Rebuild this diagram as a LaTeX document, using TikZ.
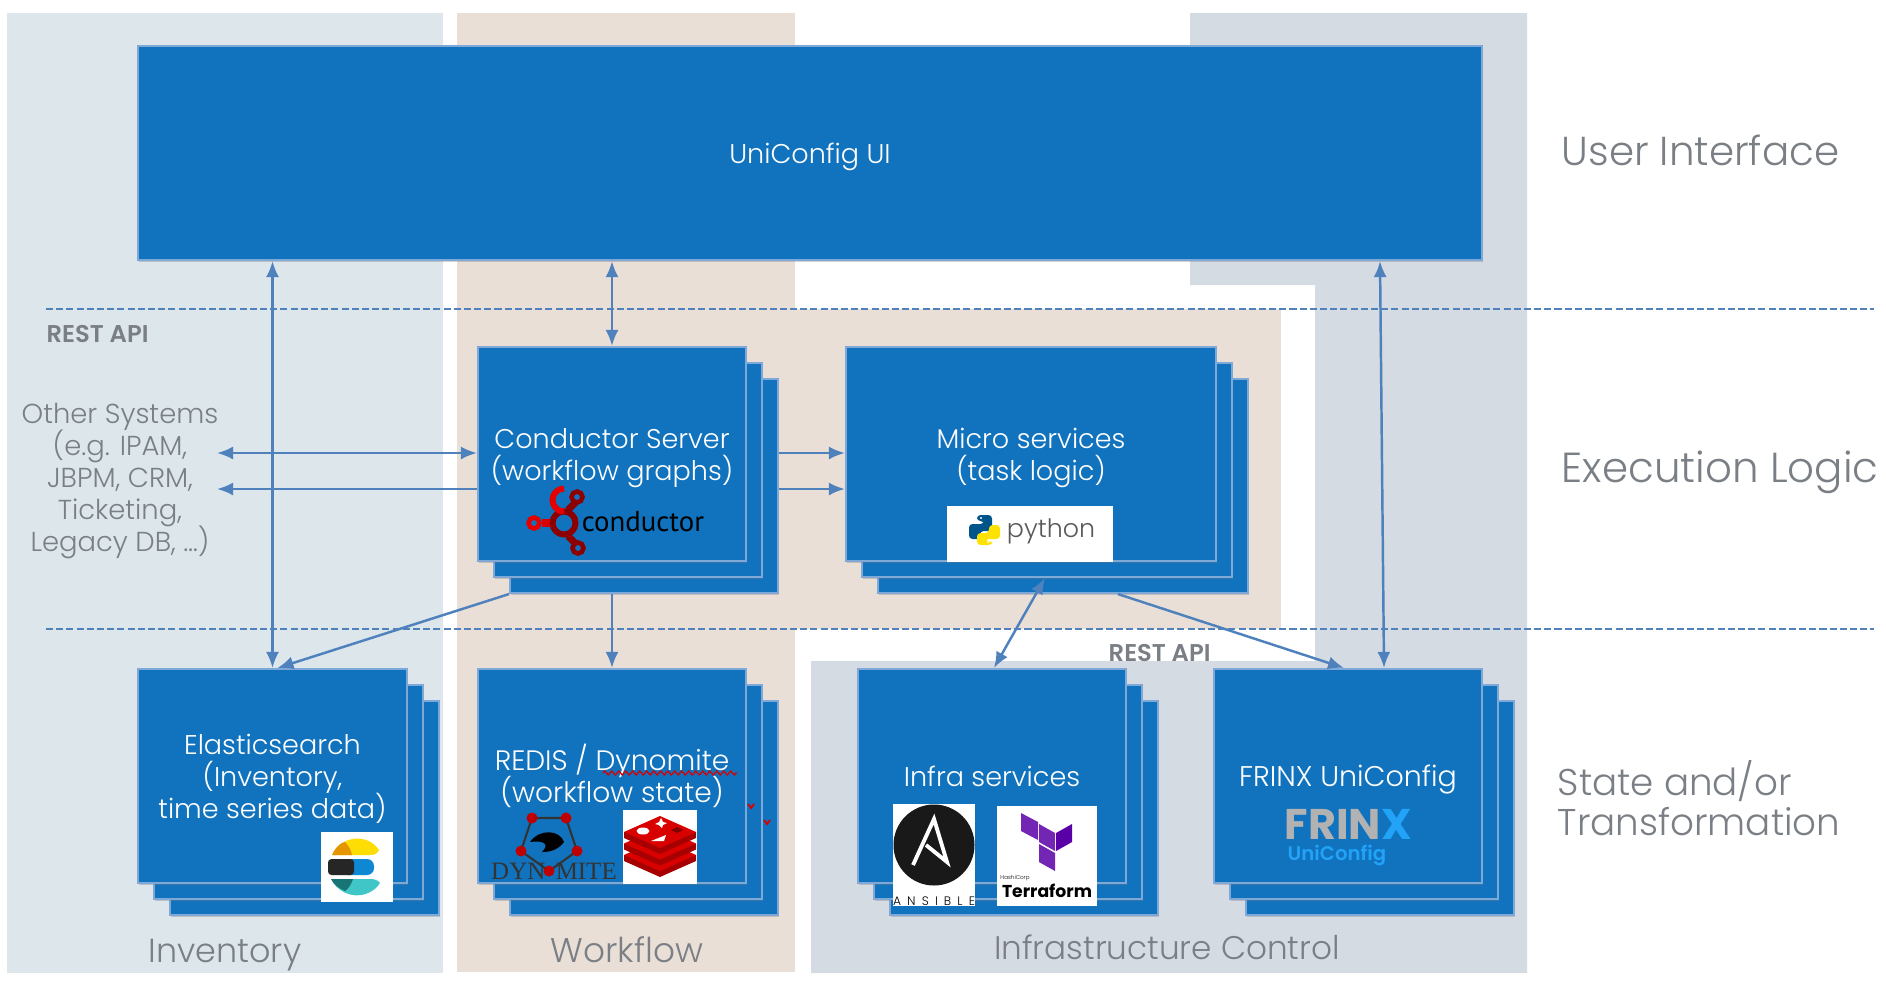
\documentclass[tikz,border=0pt]{standalone}
\usepackage{fontspec}
\setmainfont{Poppins}[UprightFont=* Light, BoldFont=* SemiBold]
\newfontfamily\logoserif{Liberation Serif}
\newfontfamily\logocond{PT Sans}
\newfontfamily\logobold{Poppins}[UprightFont=* Bold]
\usetikzlibrary{positioning, calc, arrows.meta, shadows, decorations.pathmorphing}
\definecolor{inventory color}{HTML}{DCE6EB}
\definecolor{workflow color}{HTML}{EADFD6}
\definecolor{infra color}{HTML}{D5DBE3}
\definecolor{block color}{HTML}{1172BE}
\definecolor{edge color}{HTML}{7EA8D8}
\definecolor{flow color}{HTML}{4F81BD}
\definecolor{label color}{HTML}{7A7F85}
\definecolor{frinx blue}{HTML}{22A3F7}
\newcommand{\sizedfont}[2]{\fontsize{#1}{#2}\selectfont\lineskiplimit=-20pt\relax}
\tikzset{block/.style={draw=edge color, fill=block color, line width=0.6pt, inner sep=0pt, text=white, align=center, text depth=0pt,
    font=\sizedfont{7.7}{9.1}, drop shadow={shadow xshift=0.3pt, shadow yshift=-0.5pt, opacity=0.35}}}
\tikzset{flow/.style={draw=flow color, line width=0.7pt, -{Latex[length=1.6mm, width=1.3mm]}}}
\tikzset{twoway/.style={flow, {Latex[length=1.6mm, width=1.3mm]}-{Latex[length=1.6mm, width=1.3mm]}}}
\tikzset{apiline/.style={draw=flow color, line width=0.65pt, dash pattern=on 2pt off 0.9pt}}
\tikzset{graylabel/.style={text=label color, font=\sizedfont{10.6}{11.3}, inner sep=0pt}}
\tikzset{panellabel/.style={text=label color, font=\sizedfont{9.5}{10}, inner sep=0pt}}
\tikzset{apilabel/.style={text=label color, font=\fontsize{6.9}{7}\bfseries\selectfont, inner sep=0pt}}
\tikzset{logopad/.style={fill=white, draw=none, inner sep=0pt}}
\begin{document}
\begin{tikzpicture}[y=-1cm]
    \useasboundingbox (0,0) rectangle (18.86,9.84);
    % panels
    \fill[inventory color] (0.07,0.13) rectangle (4.43,9.73);
    \fill[workflow color] (4.57,0.13) rectangle (7.95,9.72);
    \fill[workflow color] (4.57,3.09) rectangle (12.81,6.29);
    \fill[infra color] (11.90,0.13) -- (15.27,0.13) -- (15.27,9.73) -- (8.11,9.73) -- (8.11,6.61) -- (13.15,6.61) -- (13.15,2.85) -- (11.90,2.85) -- cycle;
    % api lines
    \coordinate (apiAleft) at (0.46,3.09);
    \coordinate (apiAright) at (18.74,3.09);
    \coordinate (apiBleft) at (0.46,6.29);
    \coordinate (apiBright) at (18.74,6.29);
    \draw[apiline] (apiAleft) -- (apiAright);
    \draw[apiline] (apiBleft) -- (apiBright);
    % stacks, back layers first
    \foreach \id/\cx/\cy/\boxw in {conductor/6.12/4.54/2.68, micro/10.31/4.54/3.70, elastic/2.725/7.76/2.69,
        redis/6.12/7.76/2.68, infra/9.92/7.76/2.68, frinx/13.48/7.76/2.68} {
        \node[block, minimum width=\boxw cm, minimum height=2.14cm] (\id back) at (\cx+0.32,\cy+0.32) {};
        \node[block, minimum width=\boxw cm, minimum height=2.14cm] (\id mid) at (\cx+0.16,\cy+0.16) {};
    }
    \node[block, minimum width=13.44cm, minimum height=2.14cm] (ui) at (8.10,1.53) {UniConfig UI};
    \node[block, minimum width=2.68cm, minimum height=2.14cm] (conductor) at (6.12,4.54) {Conductor Server\\(workflow graphs)};
    \node[block, minimum width=3.70cm, minimum height=2.14cm] (micro) at (10.31,4.54) {Micro services\\(task logic)};
    \node[block, minimum width=2.69cm, minimum height=2.14cm] (elastic) at (2.725,7.76) {Elasticsearch\\(Inventory,\\time series data)};
    \node[block, minimum width=2.68cm, minimum height=2.14cm, font=\sizedfont{8.0}{9.1}, text depth=1.4pt] (redis) at (6.12,7.76) {REDIS / Dynomite\\(workflow state)};
    \node[block, minimum width=2.68cm, minimum height=2.14cm] (infra) at (9.92,7.76) {Infra services};
    \node[block, minimum width=2.68cm, minimum height=2.14cm, font=\sizedfont{8.1}{9.1}] (frinx) at (13.48,7.76) {FRINX UniConfig};
    % spell check marks
    \draw[red!85!black, line width=0.35pt, decorate, decoration={zigzag, segment length=0.07cm, amplitude=0.02cm}] (6.03,7.73) -- (7.37,7.73);
    \draw[red!85!black, line width=0.5pt] (7.48,8.04) -- (7.51,8.08) -- (7.54,8.04);
    \draw[red!85!black, line width=0.5pt] (7.64,8.20) -- (7.67,8.24) -- (7.70,8.20);
    % text round the blocks
    \node[apilabel, anchor=west] (apiAtext) at (0.46,3.34) {REST API};
    \node[apilabel, anchor=west] (apiBtext) at (11.08,6.53) {REST API};
    \node[text=label color, align=center, inner sep=0pt, font=\sizedfont{7.8}{9.1}] (others) at (1.20,4.81) {Other Systems\\(e.g. IPAM,\\JBPM, CRM,\\Ticketing,\\Legacy DB, \dots)};
    \node[graylabel, anchor=west, font=\sizedfont{11.5}{12}] (uilabel) at (15.61,1.50) {User Interface};
    \node[graylabel, anchor=west, font=\sizedfont{11.95}{12}] (logiclabel) at (15.61,4.72) {Execution Logic};
    \node[graylabel, anchor=west, align=left] (statelabel) at (15.57,7.98) {State and/or\\Transformation};
    \node[panellabel] (inventorylabel) at (2.25,9.55) {Inventory};
    \node[panellabel, font=\sizedfont{9.75}{10}] (workflowlabel) at (6.27,9.50) {Workflow};
    \node[panellabel, font=\sizedfont{9.3}{10}] (infralabel) at (11.67,9.47) {Infrastructure Control};
    % connectors
    \draw[twoway] (ui.south -| elastic.north) -- (elastic.north);
    \draw[twoway] (ui.south -| conductor.north) -- (conductor.north);
    \draw[twoway] ($(ui.south)+(5.70,0)$) -- ($(frinx.north)+(0.36,0)$);
    \coordinate (otherA) at (2.17,4.53);
    \coordinate (otherB) at (2.17,4.89);
    \draw[twoway] (otherA) -- (otherA -| conductor.west);
    \draw[flow] (otherB -| conductor.west) -- (otherB);
    \draw[flow] (otherA -| conductorback.east) -- (otherA -| micro.west);
    \draw[flow] (otherB -| conductorback.east) -- (otherB -| micro.west);
    \draw[flow] (conductorback.south west) -- ($(elastic.north)+(0.05,0)$);
    \draw[flow] (conductorback.south -| redis.north) -- (redis.north);
    \draw[twoway] ($(micromid.south west)+(1.84,0)$) -- ($(infra.north)+(0.02,0)$);
    \draw[flow] ($(microback.south west)+(2.41,0)$) -- ($(frinx.north)-(0.04,0)$);
    % conductor logo
    \node[inner sep=0pt, font=\logocond\fontsize{8.2}{9}\selectfont] (conductorlogo) at (6.43,5.22) {conductor};
    \draw[red!85!black, line width=2pt] (5.42,5.23) -- (5.55,5.23);
    \draw[red!55!black, line width=2pt] (5.68,5.10) -- (5.76,5.02);
    \draw[red!55!black, line width=2pt] (5.68,5.36) -- (5.76,5.44);
    \draw[red!55!black, line width=1.7pt] (5.64,5.23) circle (0.115);
    \draw[red!90!black, line width=1.7pt] (5.64,5.115) arc (90:270:0.115);
    \draw[red!90!black, line width=1.3pt] (5.34,5.23) circle (0.055);
    \draw[red!55!black, line width=1.3pt] (5.77,4.97) circle (0.055);
    \draw[red!55!black, line width=1.3pt] (5.78,5.48) circle (0.055);
    % python logo
    \node[logopad, minimum width=1.66cm, minimum height=0.56cm] (pythonpad) at (10.30,5.34) {};
    \node[inner sep=0pt, text=black!65, font=\fontsize{7.2}{9}\selectfont] (pythonword) at (10.51,5.31) {python};
    \fill[blue!40!cyan!55!black, rounded corners=1pt] (9.77,5.15) -- (9.92,5.15) -- (9.92,5.31) -- (9.80,5.31) -- (9.80,5.39) -- (9.69,5.39) -- (9.69,5.24) -- (9.84,5.24) -- (9.84,5.21) -- (9.77,5.21) -- cycle;
    \fill[yellow!85!orange, rounded corners=1pt] (9.92,5.45) -- (9.77,5.45) -- (9.77,5.33) -- (9.89,5.33) -- (9.89,5.25) -- (10.00,5.25) -- (10.00,5.39) -- (9.85,5.39) -- (9.85,5.41) -- (9.92,5.41) -- cycle;
    \fill[white] (9.81,5.18) circle (0.012);
    \fill[white] (9.88,5.42) circle (0.012);
    % elastic logo
    \node[logopad, minimum width=0.72cm, minimum height=0.70cm] (elasticpad) at (3.57,8.67) {};
    \fill[yellow!80!orange] (3.32,8.55) .. controls (3.42,8.34) and (3.69,8.34) .. (3.79,8.50) .. controls (3.77,8.55) and (3.72,8.55) .. (3.70,8.55) -- cycle;
    \fill[orange!70!yellow!90!black] (3.32,8.55) .. controls (3.36,8.46) and (3.42,8.42) .. (3.45,8.42) .. controls (3.49,8.46) and (3.51,8.50) .. (3.52,8.55) -- cycle;
    \fill[cyan!70!blue, rounded corners=2pt] (3.40,8.59) rectangle (3.74,8.75);
    \fill[black!85, rounded corners=1pt] (3.28,8.59) rectangle (3.54,8.75);
    \fill[teal!60!cyan!75] (3.31,8.79) -- (3.70,8.79) .. controls (3.74,8.79) and (3.78,8.80) .. (3.80,8.83) .. controls (3.69,9.00) and (3.42,9.00) .. (3.31,8.79) -- cycle;
    \fill[teal!80!black!90] (3.31,8.79) -- (3.53,8.79) .. controls (3.51,8.85) and (3.48,8.89) .. (3.45,8.91) .. controls (3.40,8.89) and (3.34,8.85) .. (3.31,8.79) -- cycle;
    % dynomite logo
    \draw[black!80, line width=0.6pt] (5.32,8.18) -- (5.66,8.18) -- (5.77,8.51) -- (5.49,8.71) -- (5.21,8.51) -- cycle;
    \fill[black] (5.30,8.42) .. controls (5.40,8.28) and (5.60,8.30) .. (5.64,8.42) .. controls (5.58,8.50) and (5.50,8.52) .. (5.42,8.52) .. controls (5.50,8.44) and (5.44,8.40) .. (5.30,8.42) -- cycle;
    \node[inner sep=0pt, text=black!80, font=\logoserif\fontsize{7.1}{8}\selectfont] (dynotext) at (5.54,8.71) {DYN\hspace{0.42em}MITE};
    \foreach \px/\py in {5.32/8.18, 5.66/8.18, 5.77/8.51, 5.49/8.71, 5.21/8.51} {
        \fill[red!75!black] (\px,\py) circle (0.055);
    }
    % redis logo
    \node[logopad, minimum width=0.74cm, minimum height=0.74cm] (redispad) at (6.60,8.47) {};
    \foreach \k in {0.23,0.115,0} {
        \fill[red!65!black] (6.24,8.32+\k) -- (6.24,8.38+\k) -- (6.60,8.54+\k) -- (6.96,8.38+\k) -- (6.96,8.32+\k) -- cycle;
        \fill[red!85!black] (6.24,8.32+\k) -- (6.60,8.16+\k) -- (6.96,8.32+\k) -- (6.60,8.48+\k) -- cycle;
    }
    \fill[white] (6.43,8.31) ellipse (0.065 and 0.035);
    \fill[white] (6.51,8.41) -- (6.66,8.35) -- (6.64,8.41) -- cycle;
    \fill[white] (6.61,8.18) -- (6.63,8.22) -- (6.67,8.23) -- (6.63,8.25) -- (6.62,8.28) -- (6.59,8.25) -- (6.55,8.24) -- (6.59,8.22) -- cycle;
    \fill[red!50!black] (6.71,8.30) -- (6.77,8.27) -- (6.83,8.30) -- (6.77,8.33) -- cycle;
    % ansible logo
    \node[logopad, minimum width=0.82cm, minimum height=1.02cm] (ansiblepad) at (9.34,8.55) {};
    \fill[black!90] (9.34,8.45) circle (0.405);
    \draw[white, line width=1.1pt, line join=miter] (9.13,8.65) -- (9.34,8.19) -- (9.47,8.62) -- (9.26,8.45);
    \node[inner sep=0pt, font=\fontsize{3.5}{4}\selectfont] (ansibleword) at (9.34,9.01) {A\hspace{0.5em}N\hspace{0.5em}S\hspace{0.5em}I\hspace{0.5em}B\hspace{0.5em}L\hspace{0.5em}E};
    % terraform logo
    \node[logopad, minimum width=1.00cm, minimum height=1.00cm] (terraformpad) at (10.47,8.56) {};
    \fill[violet!70!blue!85] (10.21,8.13) -- (10.38,8.22) -- (10.38,8.40) -- (10.21,8.31) -- cycle;
    \fill[violet!70!blue!85] (10.39,8.24) -- (10.55,8.33) -- (10.55,8.51) -- (10.39,8.42) -- cycle;
    \fill[violet!70!blue] (10.56,8.33) -- (10.72,8.24) -- (10.72,8.42) -- (10.56,8.51) -- cycle;
    \fill[violet!70!blue!85] (10.39,8.44) -- (10.55,8.53) -- (10.55,8.71) -- (10.39,8.62) -- cycle;
    \node[inner sep=0pt, font=\fontsize{1.6}{2}\selectfont] (hashiword) at (10.15,8.78) {HashiCorp};
    \node[inner sep=0pt, font=\logobold\fontsize{4.9}{6}\selectfont] (terraformword) at (10.47,8.91) {Terraform};
    % frinx logo
    \node[inner sep=0pt, font=\logobold\fontsize{12.2}{13}\selectfont, text=black!30, anchor=west] (frinxword) at (12.84,8.24) {FRIN\textcolor{frinx blue}{X}};
    \node[inner sep=0pt, font=\fontsize{5.6}{6}\bfseries\selectfont, text=frinx blue, anchor=west] (frinxsub) at (12.87,8.55) {UniConfig};
\end{tikzpicture}
\end{document}
